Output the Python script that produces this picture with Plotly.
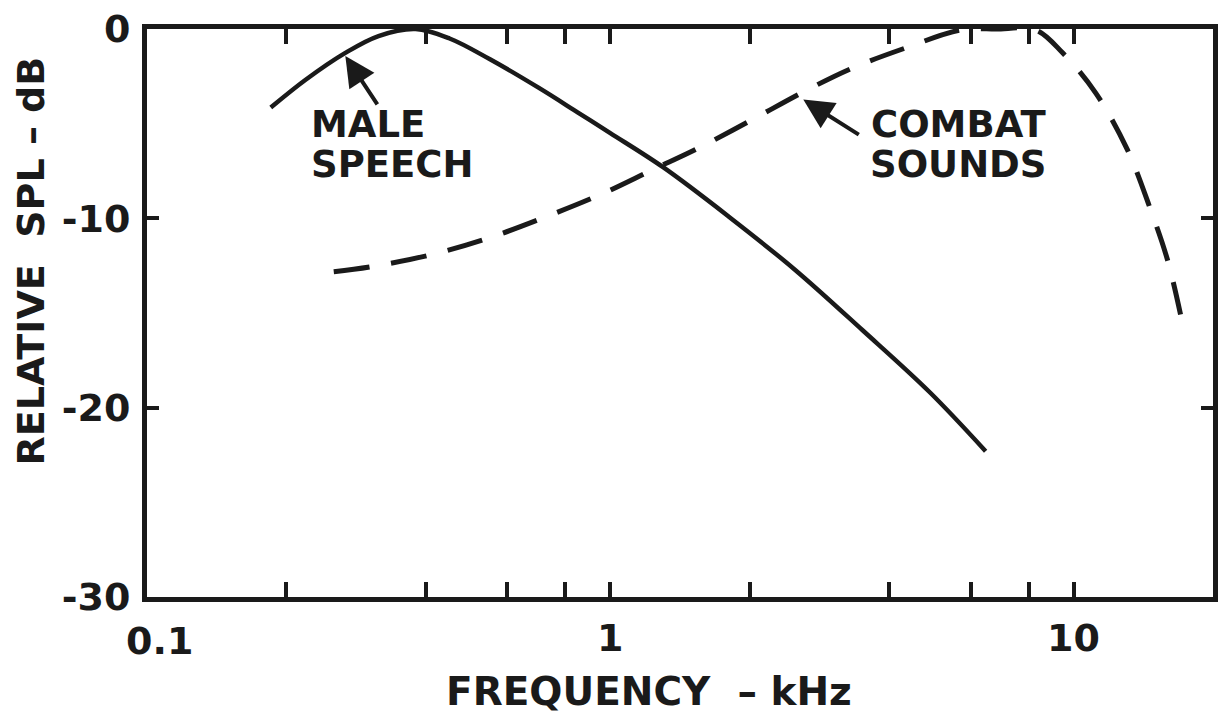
import math
import plotly.graph_objects as go

# Male speech spectrum (solid)
speech_freq_khz = [0.185, 0.220, 0.268, 0.316, 0.38, 0.45, 0.55, 0.70, 0.85,
                   1.0, 1.3, 1.8, 2.5, 3.5, 4.9, 6.46]
speech_db = [-4.15, -2.68, -1.26, -0.37, 0.0, -0.5, -1.6, -3.1, -4.4,
             -5.5, -7.3, -9.9, -12.7, -15.9, -19.2, -22.3]

# Combat sounds spectrum (dashed)
combat_freq_khz = [0.253, 0.304, 0.409, 0.546, 0.724, 0.957, 1.24, 1.53, 2.01, 2.64,
                   3.34, 4.34, 5.71, 6.8, 8.28, 9.47, 11.15, 13.06, 14.65, 15.95, 17.02]
combat_db = [-12.82, -12.56, -11.93, -11.04, -9.93, -8.72, -7.41, -6.36, -4.83, -3.26,
             -2.05, -1.0, -0.05, 0.0, -0.05, -1.26, -3.36, -6.36, -9.51, -12.19, -15.08]

x_tickvals = [0.1, 0.2, 0.4, 0.6, 0.8, 1, 2, 4, 6, 8, 10]
x_ticktext = ["", "", "", "", "", "1", "", "", "", "", "10"]
y_tickvals = [-30, -20, -10, 0]
y_ticktext = ["-30", "-20", "-10", "0"]

FONT = "DejaVu Sans"
INK = "#1a1a1a"

fig = go.Figure()
fig.add_trace(go.Scatter(x=speech_freq_khz, y=speech_db, mode="lines",
                         line=dict(color=INK, width=4.5, shape="spline"),
                         showlegend=False, hoverinfo="skip"))
fig.add_trace(go.Scatter(x=combat_freq_khz, y=combat_db, mode="lines",
                         line=dict(color=INK, width=5, shape="spline", dash="36px,22px"),
                         showlegend=False, hoverinfo="skip"))

axis_common = dict(showgrid=False, zeroline=False, showline=True, linecolor=INK,
                   linewidth=5, mirror="ticks", ticks="inside", tickcolor=INK,
                   tickwidth=4,
                   tickfont=dict(family=FONT, size=38, color=INK, weight="bold"))

fig.update_xaxes(type="log", range=[-1, math.log10(20)], tickmode="array",
                 tickvals=x_tickvals, ticktext=x_ticktext, ticklen=15,
                 ticklabelstandoff=3, **axis_common)
fig.update_yaxes(range=[-30, 0], tickmode="array", tickvals=y_tickvals,
                 ticktext=y_ticktext, ticklen=12, ticklabelstandoff=4, **axis_common)

bold = dict(family=FONT, color=INK, weight="bold")

annotations = [
    # first decade label, drawn slightly right of the axis corner as in the original
    dict(text="0.1", xref="paper", yref="paper", x=0.012, y=-0.077,
         xanchor="center", yanchor="middle", showarrow=False, font=dict(size=38, **bold)),
    # axis titles
    dict(text="FREQUENCY  \u2013 kHz", xref="paper", yref="paper", x=0.4706, y=-0.166,
         xanchor="center", yanchor="middle", showarrow=False, font=dict(size=39, **bold)),
    dict(text="RELATIVE  SPL \u2013 dB", xref="paper", yref="paper", x=-0.109, y=0.592,
         xanchor="center", yanchor="middle", textangle=-90, showarrow=False,
         font=dict(size=38, **bold)),
    # curve labels
    dict(text="MALE", xref="paper", yref="paper", x=0.152, y=0.831, xanchor="left",
         yanchor="middle", showarrow=False, font=dict(size=37, **bold)),
    dict(text="SPEECH", xref="paper", yref="paper", x=0.152, y=0.762, xanchor="left",
         yanchor="middle", showarrow=False, font=dict(size=37, **bold)),
    dict(text="COMBAT", xref="paper", yref="paper", x=0.761, y=0.831, xanchor="center",
         yanchor="middle", showarrow=False, font=dict(size=37, **bold)),
    dict(text="SOUNDS", xref="paper", yref="paper", x=0.761, y=0.762, xanchor="center",
         yanchor="middle", showarrow=False, font=dict(size=37, **bold)),
    # arrows
    dict(text="", x=math.log10(0.268), y=-1.42, xref="x", yref="y", ax=33, ay=50,
         showarrow=True, arrowhead=2, arrowsize=1.5, arrowwidth=4, arrowcolor=INK),
    dict(text="", x=math.log10(2.61), y=-3.73, xref="x", yref="y", ax=57, ay=36,
         showarrow=True, arrowhead=2, arrowsize=1.5, arrowwidth=4, arrowcolor=INK),
]

fig.update_layout(width=1225, height=721,
                  margin=dict(l=147, r=7, t=26, b=124),
                  paper_bgcolor="white", plot_bgcolor="white",
                  annotations=annotations, showlegend=False)

fig.write_html("out.html")
